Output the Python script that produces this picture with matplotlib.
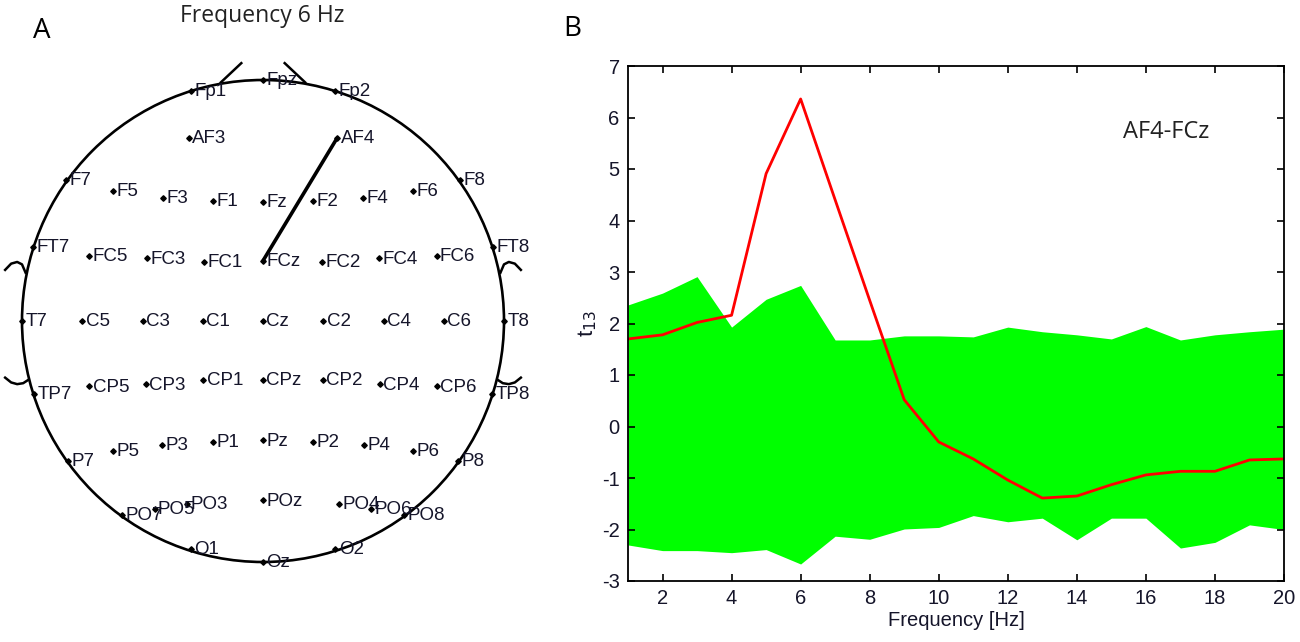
import matplotlib
matplotlib.use("Agg")
import matplotlib.pyplot as plt
from matplotlib.patches import Circle
import numpy as np

plt.rcParams["axes.unicode_minus"] = False
plt.rcParams["font.family"] = ["Liberation Sans", "DejaVu Sans"]

# ---- panel B data: t-values over frequency ----
freq = np.arange(1, 21)
t_af4_fcz = [1.70, 1.78, 2.02, 2.16, 4.91, 6.36, 4.40, 2.45, 0.52, -0.30,
             -0.63, -1.04, -1.39, -1.35, -1.13, -0.94, -0.87, -0.87, -0.65, -0.63]
band_upper = [2.36, 2.59, 2.91, 1.93, 2.47, 2.74, 1.68, 1.68, 1.76, 1.76,
              1.74, 1.93, 1.84, 1.78, 1.70, 1.94, 1.68, 1.78, 1.84, 1.89]
band_lower = [-2.30, -2.41, -2.41, -2.45, -2.39, -2.67, -2.13, -2.19, -1.99, -1.96,
              -1.73, -1.85, -1.78, -2.20, -1.78, -1.78, -2.36, -2.25, -1.91, -2.00]

# ---- panel A data: electrode positions in head units (radius 1, nose up) ----
elec_names = ["Fp1", "Fpz", "Fp2",
              "AF3", "AF4",
              "F7", "F5", "F3", "F1", "Fz", "F2", "F4", "F6", "F8",
              "FT7", "FC5", "FC3", "FC1", "FCz", "FC2", "FC4", "FC6", "FT8",
              "T7", "C5", "C3", "C1", "Cz", "C2", "C4", "C6", "T8",
              "TP7", "CP5", "CP3", "CP1", "CPz", "CP2", "CP4", "CP6", "TP8",
              "P7", "P5", "P3", "P1", "Pz", "P2", "P4", "P6", "P8",
              "PO7", "PO5", "PO3", "POz", "PO4", "PO6", "PO8",
              "O1", "Oz", "O2"]
elec_x = [-0.30, 0.0, 0.30,
          -0.308, 0.308,
          -0.816, -0.623, -0.415, -0.207, 0.0, 0.207, 0.415, 0.623, 0.816,
          -0.954, -0.72, -0.48, -0.245, 0.0, 0.245, 0.48, 0.72, 0.954,
          -1.0, -0.75, -0.5, -0.25, 0.0, 0.25, 0.5, 0.75, 1.0,
          -0.95, -0.72, -0.485, -0.248, 0.0, 0.248, 0.485, 0.72, 0.95,
          -0.81, -0.623, -0.418, -0.208, 0.0, 0.208, 0.418, 0.623, 0.81,
          -0.586, -0.45, -0.315, 0.0, 0.315, 0.45, 0.586,
          -0.30, 0.0, 0.30]
elec_y = [0.956, 1.0, 0.956,
          0.760, 0.760,
          0.586, 0.540, 0.512, 0.500, 0.495, 0.500, 0.512, 0.540, 0.586,
          0.307, 0.270, 0.261, 0.245, 0.250, 0.245, 0.261, 0.270, 0.307,
          0.0, 0.0, 0.0, 0.0, 0.0, 0.0, 0.0, 0.0, 0.0,
          -0.303, -0.270, -0.263, -0.243, -0.243, -0.243, -0.263, -0.270, -0.303,
          -0.581, -0.539, -0.513, -0.502, -0.494, -0.502, -0.513, -0.539, -0.581,
          -0.805, -0.780, -0.759, -0.743, -0.759, -0.780, -0.805,
          -0.946, -1.0, -0.946]
connection = ("AF4", "FCz")
head_title = "Frequency 6 Hz"
pair_label = "AF4-FCz"

# head outline pieces (ears are small hooks, nose is two strokes)
ear_up_x = [0.985, 1.0, 1.02, 1.045, 1.07]
ear_up_y = [0.20, 0.235, 0.245, 0.238, 0.212]
ear_lo_x = [0.975, 0.995, 1.02, 1.045, 1.07]
ear_lo_y = [-0.245, -0.258, -0.262, -0.255, -0.235]
nose_x = [-0.175, -0.09]
nose_y = [0.99, 1.07]

ink = "#15152a"

fig = plt.figure(figsize=(13, 6.42), dpi=100)

# ---------------- panel A ----------------
ax_h = fig.add_axes([0, 0, 546 / 1300, 1])
ax_h.set_xlim(-263 / 241, 283 / 241)
ax_h.set_ylim(-321 / 241, 321 / 241)
ax_h.axis("off")

ax_h.add_patch(Circle((0, 0), 1.0, fill=False, ec="black", lw=1.9))
for s in (-1, 1):
    ax_h.plot(np.array(ear_up_x) * s, ear_up_y, color="black", lw=1.8)
    ax_h.plot(np.array(ear_lo_x) * s, ear_lo_y, color="black", lw=1.8)
    ax_h.plot(np.array(nose_x) * s, nose_y, color="black", lw=1.8)

i0 = elec_names.index(connection[0])
i1 = elec_names.index(connection[1])
ax_h.plot([elec_x[i0], elec_x[i1]], [elec_y[i0], elec_y[i1]], color="black", lw=2.6,
          solid_capstyle="butt")

ax_h.plot(elec_x, elec_y, linestyle="none", marker="D", markersize=2.8, color="black")
for name, x, y in zip(elec_names, elec_x, elec_y):
    ax_h.text(x + 0.014, y - 0.004, name, ha="left", va="center", fontsize=13.5,
              color=ink)

fig.text(262 / 1300, 1 - 16 / 642, head_title, ha="center", va="center",
         fontsize=16.5, family="Open Sans", color="#222222")
fig.text(42 / 1300, 1 - 31 / 642, "A", ha="center", va="center",
         fontsize=20, family="Open Sans", color="black")
fig.text(572 / 1300, 1 - 29 / 642, "B", ha="center", va="center",
         fontsize=20, family="Open Sans", color="black")

# ---------------- panel B ----------------
ax = fig.add_axes([628 / 1300, 1 - 581 / 642, 656 / 1300, 515 / 642])
ax.fill_between(freq, band_lower, band_upper, color="#00ff00", lw=0)
ax.plot(freq, t_af4_fcz, color="#ff0000", lw=2.0)
ax.set_xlim(1, 20)
ax.set_ylim(-3, 7)
ax.set_xticks(np.arange(2, 21, 2))
ax.set_yticks(np.arange(-3, 8, 1))
ax.tick_params(direction="in", top=True, right=True, length=5, width=1.2,
               labelsize=14.5, labelcolor=ink, pad=6)
for sp in ax.spines.values():
    sp.set_linewidth(1.3)
ax.set_xlabel("Frequency [Hz]", fontsize=14.5, color=ink, labelpad=2)
ax.set_ylabel("t$_{13}$", fontsize=16, color=ink, labelpad=2)
ax.text(16.6, 5.72, pair_label, ha="center", va="center", fontsize=17,
        family="Open Sans", color="#222222")

fig.savefig("out.png", dpi=100)
